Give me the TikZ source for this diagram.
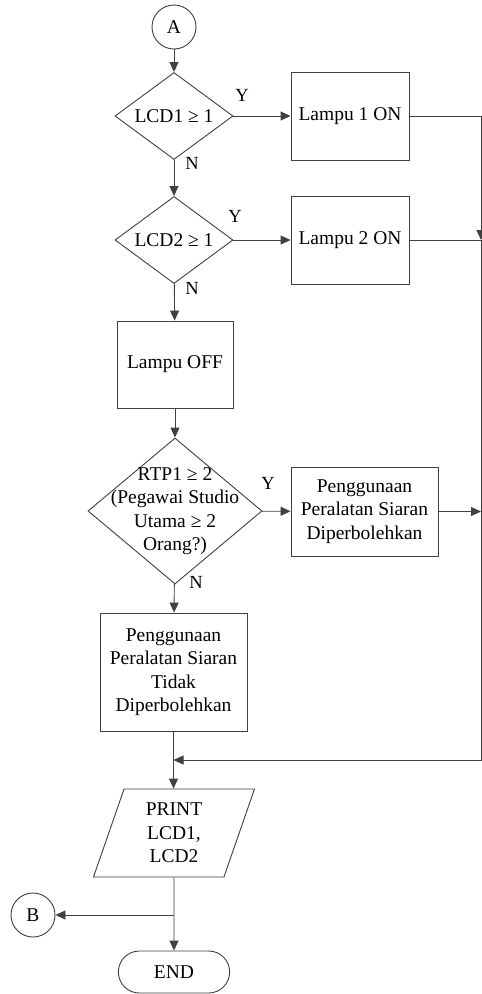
\documentclass[tikz,border=0pt]{standalone}
\usepackage{fontspec}
\setmainfont{Liberation Serif}
\usetikzlibrary{shapes.geometric,shapes.misc,arrows.meta}
\begin{document}
\begin{tikzpicture}[x=1pt,y=-1pt,
  every node/.style={font=\fontsize{19.5}{23.5}\selectfont, text=black},
  line/.style={draw=black!75, line width=0.9pt},
  arr/.style={line, -{Triangle[length=10pt,width=9pt]}},
  proc/.style={rectangle, draw=black!75, line width=0.9pt, fill=white, align=center, inner sep=2pt},
  dia/.style={diamond, draw=black!75, line width=0.9pt, fill=white, inner sep=0pt},
  conn/.style={circle, draw=black!75, line width=0.9pt, fill=white, minimum size=44pt, inner sep=0pt},
  lbl/.style={font=\fontsize{18.5}{20}\selectfont}
]
\useasboundingbox (0,0) rectangle (482,994);

% nodes
\node[conn] (A) at (174,27) {A};
\node[dia, minimum width=118pt, minimum height=87pt,
      label={center:LCD1 ≥ 1}] (d1) at (174,116) {};
\node[proc, minimum width=118pt, minimum height=88pt] (L1) at (350,116) {Lampu 1 ON};
\node[dia, minimum width=118pt, minimum height=87pt,
      label={center:LCD2 ≥ 1}] (d2) at (174,240) {};
\node[proc, minimum width=118pt, minimum height=88pt] (L2) at (350,240) {Lampu 2 ON};
\node[proc, minimum width=116pt, minimum height=87pt] (off) at (175,364.5) {Lampu OFF};
\node[dia, minimum width=174pt, minimum height=146pt,
      label={[align=center]center:RTP1 ≥ 2\\(Pegawai Studio\\Utama ≥ 2\\Orang?)}] (d3) at (175,511) {};
\node[proc, minimum width=147pt, minimum height=89pt] (P1) at (364.5,511.5)
      {Penggunaan\\Peralatan Siaran\\Diperbolehkan};
\node[proc, minimum width=147pt, minimum height=118pt] (T) at (173.5,672)
      {Penggunaan\\Peralatan Siaran\\Tidak\\Diperbolehkan};
\node[trapezium, trapezium left angle=63, trapezium right angle=117,
      trapezium stretches body, draw=black!75, line width=0.9pt, fill=white,
      minimum width=161pt, minimum height=88pt, align=center, inner sep=0pt]
      (pr) at (174,833) {PRINT\\LCD1,\\LCD2};
\node[conn] (B) at (33,915) {B};
\node[rounded rectangle, draw=black!75, line width=0.9pt, fill=white,
      minimum width=118pt, minimum height=42pt] (END) at (174,972) {END};

% labels
\node[lbl] (y1) at (242,95) {Y};
\node[lbl] (n1) at (192,163) {N};
\node[lbl] (y2) at (235,216) {Y};
\node[lbl] (n2) at (192,288) {N};
\node[lbl] (y3) at (268,483) {Y};
\node[lbl] (n3) at (196,582) {N};

% junctions
\coordinate (jR1) at (481,240);
\coordinate (jR3) at (481,760);
\coordinate (jB) at (174,915);

% connectors
\draw[arr] (A) -- (d1);
\draw[arr] (d1) -- (L1);
\draw[arr] (d1) -- (d2);
\draw[arr] (d2) -- (L2);
\draw[arr] (d2) -- (off);
\draw[arr] (off) -- (d3);
\draw[arr] (d3) -- (P1);
\draw[arr] (d3) -- (T);
\draw[arr] (T) -- (T |- pr.top side);
\draw[arr] (END |- pr.bottom side) -- (END);
\draw[arr] (jB) -- (B);
\draw[arr] (L1.east) -| (jR1);
\draw[line] (L2) -- (jR1);
\draw[arr] (P1) -- (P1 -| jR1);
\draw[arr] (jR1) -- (jR3) -- (T |- jR3);
\end{tikzpicture}
\end{document}
